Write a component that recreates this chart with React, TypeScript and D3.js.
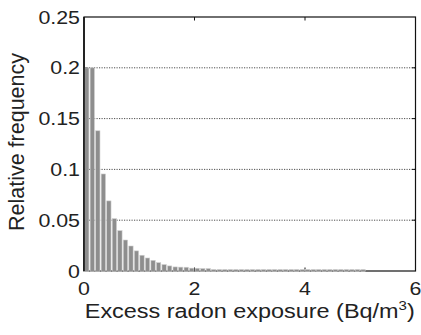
import React from "react";
import * as d3 from "d3";

const binStarts: number[] = Array.from({ length: 51 }, (_, i) => +(i * 0.1).toFixed(1));
const frequencies: number[] = [
  0.2, 0.2, 0.138, 0.0955, 0.069, 0.0515, 0.0397, 0.0305, 0.0246, 0.0198,
  0.0155, 0.0128, 0.0105, 0.0082, 0.0063, 0.005, 0.004, 0.0038, 0.0037, 0.0028,
  0.0027, 0.0024, 0.0024, 0.0012, 0.0012, 0.0011, 0.001, 0.001, 0.0005, 0.0005,
  0.0005, 0.0004, 0.0004, 0.0004, 0.0004, 0.0003, 0.0003, 0.0003, 0.0003, 0.0003,
  0.0003, 0.0003, 0.0002, 0.0002, 0.0002, 0.0002, 0.0002, 0.0002, 0.0002, 0.0002,
  0.0002,
];
const binWidth = 0.1;
const yTicks: number[] = [0, 0.05, 0.1, 0.15, 0.2, 0.25];
const yTickLabels: string[] = ["0", "0.05", "0.1", "0.15", "0.2", "0.25"];
const xTicks: number[] = [0, 2, 4, 6];
const xTickLabels: string[] = ["0", "2", "4", "6"];

const W = 421;
const H = 335;
const left = 84;
const right = 415.5;
const top = 17;
const bottom = 271;
const SX = 1.15;

export default function App() {
  const x = d3.scaleLinear().domain([0, 6]).range([left, right]);
  const y = d3.scaleLinear().domain([0, 0.25]).range([bottom, top]);
  const font = "'Liberation Sans', Arial, Helvetica, sans-serif";
  return (
    <svg
      width={W}
      height={H}
      style={{ position: "absolute", left: 0, top: 0, background: "#fff" }}
    >
      <rect x={0} y={0} width={W} height={H} fill="#fff" />
      {/* grid */}
      {yTicks
        .filter((t) => t > 0 && t < 0.25)
        .map((t) => (
          <line
            key={"g" + t}
            x1={left}
            x2={right}
            y1={y(t)}
            y2={y(t)}
            stroke="#222"
            strokeWidth={0.8}
            strokeDasharray="1.2,1.3"
          />
        ))}
      {/* axes box */}
      <rect
        x={left}
        y={top}
        width={right - left}
        height={bottom - top}
        fill="none"
        stroke="#111"
        strokeWidth={1.2}
      />
      {/* ticks */}
      {xTicks.slice(1, -1).map((t) => (
        <g key={"xt" + t}>
          <line x1={x(t)} x2={x(t)} y1={bottom} y2={bottom - 3.5} stroke="#111" strokeWidth={1} />
          <line x1={x(t)} x2={x(t)} y1={top} y2={top + 3.5} stroke="#111" strokeWidth={1} />
        </g>
      ))}
      {yTicks.slice(1, -1).map((t) => (
        <g key={"yt" + t}>
          <line x1={left} x2={left + 3.5} y1={y(t)} y2={y(t)} stroke="#111" strokeWidth={1} />
          <line x1={right} x2={right - 3.5} y1={y(t)} y2={y(t)} stroke="#111" strokeWidth={1} />
        </g>
      ))}
      {/* bars */}
      {frequencies.map((f, i) => {
        const x0 = x(binStarts[i]);
        const x1 = x(binStarts[i] + binWidth);
        const yt = Math.min(y(f), bottom - 1.5);
        return (
          <rect
            key={"b" + i}
            x={x0 + 0.6}
            y={yt}
            width={x1 - x0 - 1.2}
            height={bottom + 0.6 - yt}
            fill="#8e8e8e"
            stroke="#cfcfcf"
            strokeWidth={0.6}
          />
        );
      })}
      {/* left axis line emphasized */}
      <line x1={left} x2={left} y1={top} y2={bottom} stroke="#111" strokeWidth={1.6} />
      {/* y tick labels */}
      {yTicks.map((t, i) => (
        <g key={"yl" + t} transform={`translate(80,${y(t)}) scale(${SX},1)`}>
          <text
            x={0}
            y={0}
            dy="0.36em"
            textAnchor="end"
            fontFamily={font}
            fontSize={18.6}
            fill="#222"
          >
            {yTickLabels[i]}
          </text>
        </g>
      ))}
      {/* x tick labels */}
      {xTicks.map((t, i) => (
        <g key={"xl" + t} transform={`translate(${x(t)},295) scale(${SX},1)`}>
          <text
            x={0}
            y={0}
            textAnchor="middle"
            fontFamily={font}
            fontSize={18.6}
            fill="#222"
          >
            {xTickLabels[i]}
          </text>
        </g>
      ))}
      {/* x label */}
      <text
        x={(left + right) / 2}
        y={317.5}
        textAnchor="middle"
        fontFamily={font}
        fontSize={19.5}
        fill="#222"
        textLength={330}
        lengthAdjust="spacingAndGlyphs"
      >
        Excess radon exposure (Bq/m
        <tspan dy={-7.5} fontSize={12.5}>3</tspan>
        <tspan dy={7.5}>)</tspan>
      </text>
      {/* y label */}
      <text
        transform={`translate(24,${(top + bottom) / 2 - 2}) rotate(-90)`}
        textAnchor="middle"
        fontFamily={font}
        fontSize={21.5}
        fill="#222"
      >
        Relative frequency
      </text>
    </svg>
  );
}
